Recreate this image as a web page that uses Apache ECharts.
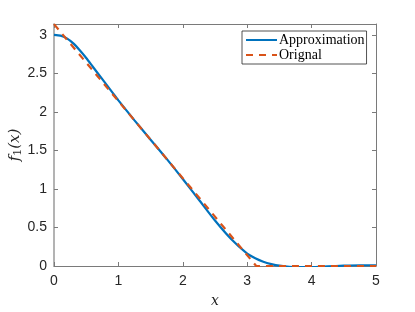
<!DOCTYPE html>
<html><head><meta charset="utf-8">
<script src="https://cdn.jsdelivr.net/npm/echarts@6/dist/echarts.min.js"></script>
<style>html,body{margin:0;padding:0;background:#fff}#c{width:415px;height:312px}</style>
</head><body><div id="c"></div>
<script>
// Approximation (blue, solid)
const approxX = [0, 0.1, 0.2, 0.3, 0.4, 0.5, 0.6, 0.7, 0.8, 0.9, 1.0, 1.25, 1.5, 1.75, 2.0, 2.25, 2.5, 2.75, 3.0, 3.125, 3.25, 3.375, 3.5, 3.75, 4.0, 4.25, 4.5, 4.75, 5.0];
const approxY = [3.00, 2.99, 2.955, 2.89, 2.80, 2.70, 2.59, 2.48, 2.37, 2.26, 2.15, 1.89, 1.64, 1.39, 1.13, 0.86, 0.59, 0.35, 0.16, 0.10, 0.055, 0.025, 0.005, -0.015, -0.015, -0.005, 0.005, 0.01, 0.01];
// Original (orange, dashed)
const origX = [0, 3.14, 5];
const origY = [3.14, 0, 0];
const xTicks = [0, 1, 2, 3, 4, 5];
const yTicks = [0, 0.5, 1, 1.5, 2, 2.5, 3];

const pairs = (xs, ys) => xs.map((x, i) => [x, ys[i]]);
const axisCol = '#7a7a7a';
const labCol = '#262626';

const chart = echarts.init(document.getElementById('c'), null, {renderer: 'canvas'});
chart.setOption({
  animation: false,
  backgroundColor: '#fff',
  grid: {left: 54, right: 39, top: 24, bottom: 46, containLabel: false, outerBoundsMode: 'none'},
  legend: {
    orient: 'vertical', left: 242, top: 31,
    itemWidth: 31, itemHeight: 12, itemGap: 1,
    padding: [2, 2, 2, 3],
    borderColor: '#262626', borderWidth: 0.8, backgroundColor: '#fff',
    itemStyle: {color: 'rgba(0,0,0,0)', borderWidth: 0, opacity: 0},
    textStyle: {fontFamily: 'Liberation Serif', fontSize: 14, color: '#000', padding: [0, 0, 0, -3]},
    data: ['Approximation', 'Orignal']
  },
  xAxis: [{
    type: 'value', min: 0, max: 5, interval: 1, position: 'bottom',
    name: 'x', nameLocation: 'middle', nameGap: 28,
    nameTextStyle: {fontFamily: 'DejaVu Serif', fontStyle: 'italic', fontSize: 14, color: labCol},
    axisLine: {show: true, onZero: false, lineStyle: {color: axisCol, width: 1}},
    axisTick: {inside: true, length: 4, lineStyle: {color: axisCol}},
    axisLabel: {color: labCol, fontFamily: 'Liberation Sans', fontSize: 14, margin: 8},
    splitLine: {show: false}
  }, {
    type: 'value', min: 0, max: 5, interval: 1, position: 'top',
    axisLine: {show: true, onZero: false, lineStyle: {color: axisCol, width: 1}},
    axisTick: {inside: true, length: 4, lineStyle: {color: axisCol}},
    axisLabel: {show: false}, splitLine: {show: false}
  }],
  yAxis: [{
    type: 'value', min: 0, max: 3.1416, interval: 0.5, position: 'left',
    name: '{f|f}{s|1}{f|(x)}', nameLocation: 'middle', nameGap: 30, nameRotate: 90,
    nameMoveOverlap: false,
    nameTextStyle: {
      rich: {
        f: {fontFamily: 'DejaVu Serif', fontStyle: 'italic', fontSize: 15, color: labCol},
        s: {fontFamily: 'DejaVu Serif', fontSize: 11, color: labCol, padding: [6, 0, 0, 0]}
      }
    },
    axisLine: {show: true, onZero: false, lineStyle: {color: '#9a9a9a', width: 1.5}},
    axisTick: {inside: true, length: 4, lineStyle: {color: axisCol}},
    axisLabel: {color: labCol, fontFamily: 'Liberation Sans', fontSize: 14, margin: 7, showMaxLabel: false},
    splitLine: {show: false}
  }, {
    type: 'value', min: 0, max: 3.1416, interval: 0.5, position: 'right',
    axisLine: {show: true, onZero: false, lineStyle: {color: axisCol, width: 1}},
    axisTick: {inside: true, length: 4, lineStyle: {color: axisCol}},
    axisLabel: {show: false}, splitLine: {show: false}
  }],
  series: [{
    name: 'Approximation', type: 'line', smooth: 0.2, symbol: 'none',
    data: pairs(approxX, approxY), z: 2,
    lineStyle: {color: '#0072BD', width: 2.2}, itemStyle: {color: '#0072BD'}
  }, {
    name: 'Orignal', type: 'line', symbol: 'none',
    data: pairs(origX, origY), z: 3,
    lineStyle: {color: '#D95319', width: 2.2, type: [7, 6]}, itemStyle: {color: '#D95319'}
  }]
});
</script></body></html>
